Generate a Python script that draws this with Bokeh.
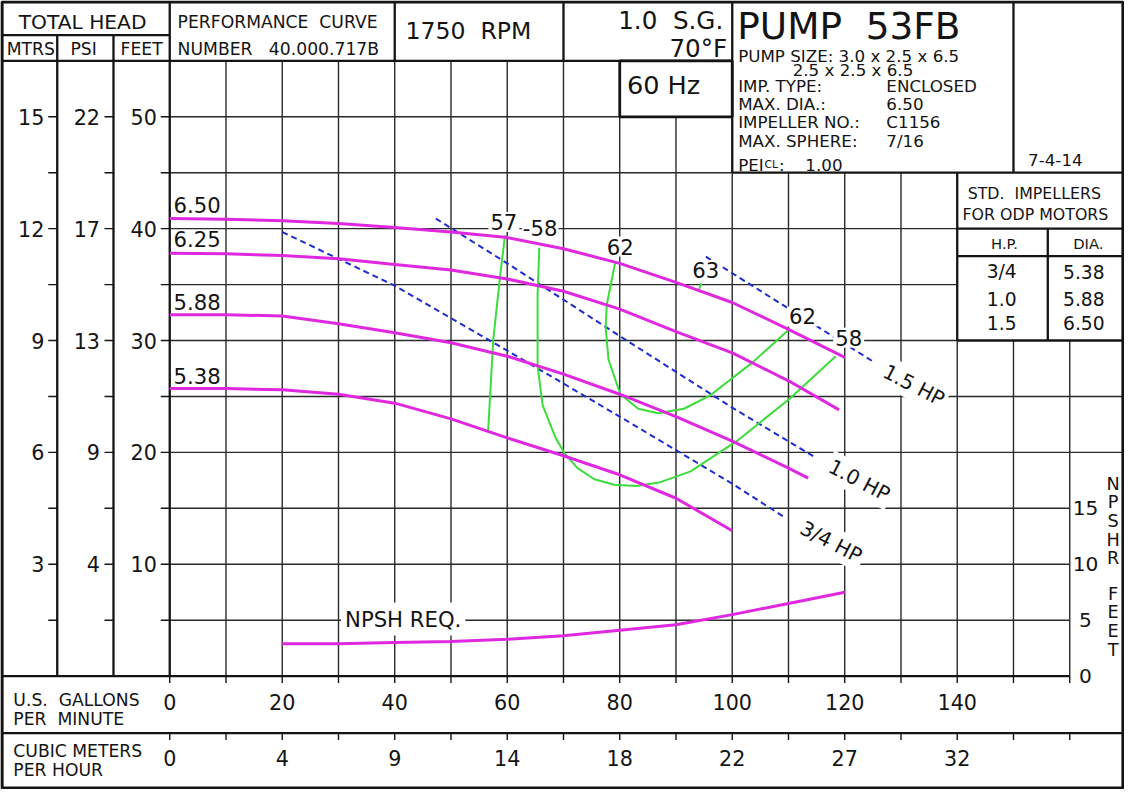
import numpy as np
from bokeh.plotting import figure
from bokeh.models import Range1d
from bokeh.core.properties import value
from bokeh.embed import file_html
from bokeh.resources import INLINE

# ------------------------------------------------------------------ data
gpm_ticks   = [0, 20, 40, 60, 80, 100, 120, 140]
gpm_labels  = ["0", "20", "40", "60", "80", "100", "120", "140"]
m3h_labels  = ["0", "4", "9", "14", "18", "22", "27", "32"]
feet_ticks  = [10, 20, 30, 40, 50]
feet_labels = ["10", "20", "30", "40", "50"]
psi_labels  = ["4", "9", "13", "17", "22"]
mtrs_labels = ["3", "6", "9", "12", "15"]
npsh_ticks  = [0, 5, 10, 15]
npsh_labels = ["0", "5", "10", "15"]

# head curves (gpm, feet) per impeller diameter
imp_labels = ["6.50", "6.25", "5.88", "5.38"]
q_650 = [0, 10, 20, 30, 40, 50, 60, 70, 80, 90, 100, 110, 120]
h_650 = [40.9, 40.85, 40.7, 40.45, 40.1, 39.7, 39.2, 38.2, 36.9, 35.2, 33.4, 31.0, 28.5]
q_625 = [0, 10, 20, 30, 40, 50, 60, 70, 80, 90, 100, 110, 119]
h_625 = [37.8, 37.75, 37.6, 37.3, 36.8, 36.3, 35.5, 34.4, 32.8, 30.8, 28.9, 26.4, 23.8]
q_588 = [0, 10, 20, 30, 40, 50, 60, 70, 80, 90, 100, 110, 113.5]
h_588 = [32.3, 32.3, 32.2, 31.5, 30.7, 29.8, 28.6, 27.0, 25.2, 23.2, 21.0, 18.6, 17.7]
q_538 = [0, 10, 20, 30, 40, 50, 60, 70, 80, 90, 100]
h_538 = [25.7, 25.7, 25.6, 25.2, 24.4, 23.0, 21.3, 19.7, 18.0, 15.9, 13.0]

# NPSH required (gpm, feet)
q_npsh = [20, 30, 40, 50, 60, 70, 80, 90, 100, 110, 120]
h_npsh = [2.9, 2.9, 3.0, 3.1, 3.3, 3.6, 4.1, 4.6, 5.5, 6.5, 7.5]

# efficiency iso-lines (gpm, feet)
eff_labels = ["57", "58", "62", "63"]
q_e57 = [59.6, 58.7, 57.5, 57.0, 56.6]
h_e57 = [39.4, 35.6, 30.0, 25.4, 21.9]
q_e58 = [65.7, 65.4, 65.4, 66.3, 68.6, 70.2, 72.5, 75.5, 79.0, 83.0, 87.0, 92.6, 100.8, 110.2, 118.4]
h_e58 = [38.3, 34.1, 27.7, 24.2, 21.3, 19.9, 18.6, 17.6, 17.1, 17.0, 17.3, 18.3, 21.0, 24.8, 28.6]
q_e62 = [79.2, 77.7, 77.5, 78.0, 80.1, 83.3, 86.8, 91.4, 96.1, 103.5, 109.9]
h_e62 = [37.0, 33.2, 31.2, 28.3, 25.2, 23.9, 23.5, 23.9, 25.1, 28.0, 30.9]
q_e63 = [94.1, 94.5]
h_e63 = [34.6, 35.1]

# motor power lines (gpm, feet)
hp_labels = ["3/4 HP", "1.0 HP", "1.5 HP"]
q_hp34 = [20, 40, 60, 80, 100, 109.6]
h_hp34 = [39.7, 34.9, 29.1, 23.2, 17.2, 14.1]
q_hp10 = [47.3, 60, 80, 100, 114.6]
h_hp10 = [40.9, 36.9, 30.4, 24.0, 19.6]
q_hp15 = [95.3, 125.1]
h_hp15 = [37.5, 28.1]

# standard impeller table
std_hp  = ["3/4", "1.0", "1.5"]
std_dia = ["5.38", "5.88", "6.50"]

# ------------------------------------------------------------------ style
FONT = value("DejaVu Sans")
FS = 0.985
INK = "#141414"
GRID = "#2a2a2a"
MAG = "#e028e0"
GRN = "#3cdc3c"
BLU = "#1e2dd2"

XL, XR = -29.82, 169.47     # outer frame, gpm units
YB, YT = -10.0, 60.26       # outer frame, feet units

p = figure(width=1124, height=789,
           x_range=Range1d(XL - 0.267, XR + 0.267),
           y_range=Range1d(YB - 0.134, YT + 0.134),
           x_axis_location=None, y_axis_location=None,
           toolbar_location=None, output_backend="svg",
           min_border=0, outline_line_color=None,
           background_fill_color="white", border_fill_color="white")
p.grid.grid_line_color = None


def seg(x0, y0, x1, y1, w=1.4, c=GRID):
    p.segment(x0=x0, y0=y0, x1=x1, y1=y1, line_color=c, line_width=w)


def txt(xs, ys, texts, size, align="left", baseline="middle", angle=0.0, bg=False, pad=2):
    texts = [t.replace(" ", "\u00a0") for t in texts]
    kw = dict(text_font=FONT, text_font_size=f"{size * FS:.1f}px",
              text_align=align, text_baseline=baseline, text_color=INK, angle=angle)
    if bg:
        kw.update(background_fill_color="white", padding=pad)
    p.text(x=xs, y=ys, text=texts, **kw)


# ------------------------------------------------------------------ grid
vq = list(range(10, 170, 10))
vtop = {10: 55, 20: 55, 30: 55, 40: 55, 50: 55, 60: 55, 70: 55, 80: 50, 90: 50,
        100: 45, 110: 45, 120: 45, 130: 45, 140: 30, 150: 30, 160: 30}
seg(vq, [0] * len(vq), vq, [vtop[q] for q in vq])
hh = list(range(5, 55, 5))
hend = {5: 160, 10: 160, 15: 160, 20: XR, 25: XR, 30: 140, 35: 140, 40: 140, 45: 100, 50: 80}
seg([0] * len(hh), hh, [hend[h] for h in hh], hh)

# ------------------------------------------------------------------ frame / table lines
TW = 2.3
seg([-20, -10], [0, 0], [-20, -10], [57.3, 57.3], w=TW, c=INK)
seg([0], [0], [0], [YT], w=TW, c=INK)
seg([XL], [57.3], [0], [57.3], w=TW, c=INK)
seg([XL], [55], [100], [55], w=TW, c=INK)
seg([40, 70], [55, 55], [40, 70], [YT, YT], w=TW, c=INK)
seg([100, 150], [45, 45], [100, 150], [YT, YT], w=TW, c=INK)
seg([100], [45], [XR], [45], w=TW, c=INK)
p.quad(left=80, right=100, bottom=50, top=55, fill_color="white", line_color=INK, line_width=2.8)
seg([140], [30], [140], [45], w=TW, c=INK)
seg([140, 140, 140], [40, 37.54, 30], [XR, XR, XR], [40, 37.54, 30], w=TW, c=INK)
seg([156.1], [30], [156.1], [40], w=TW, c=INK)
seg([XL], [0], [160], [0], w=TW, c=INK)
seg([XL], [-5.09], [XR], [-5.09], w=TW, c=INK)
p.quad(left=XL, right=XR, bottom=YB, top=YT, fill_color=None, line_color=INK, line_width=3.2)

# ------------------------------------------------------------------ axes ticks & labels
mt = [h for h in range(5, 55, 5)]
for col in (-20, -10, 0):
    seg([col - 1.6] * len(mt), mt, [col] * len(mt), mt, w=1.4, c=INK)
txt([-22.3] * 5, feet_ticks, mtrs_labels, 21, align="right")
txt([-12.4] * 5, feet_ticks, psi_labels, 21, align="right")
txt([-2.3] * 5, feet_ticks, feet_labels, 21, align="right")

bt = list(range(0, 170, 10))
seg(bt, [0] * len(bt), bt, [-0.62] * len(bt), w=1.4, c=INK)
seg(bt, [-5.09] * len(bt), bt, [-5.71] * len(bt), w=1.4, c=INK)
txt(gpm_ticks, [-2.28] * len(gpm_ticks), gpm_labels, 21, align="center")
txt(gpm_ticks, [-7.28] * len(gpm_ticks), m3h_labels, 21, align="center")
txt([-27.8, -27.8, -27.8, -27.8], [-2.1, -3.86, -6.67, -8.42],
    ["U.S.  GALLONS", "PER  MINUTE", "CUBIC METERS", "PER HOUR"], 17.5)

txt([162.8] * 4, npsh_ticks, npsh_labels, 20.5, align="center")
npsh_letters = ["N", "P", "S", "H", "R", "F", "E", "E", "T"]
ly = [17.19 - i * 1.667 for i in range(5)] + [7.37 - i * 1.667 for i in range(4)]
txt([167.7] * len(npsh_letters), ly, npsh_letters, 18, align="center")

# ------------------------------------------------------------------ curves
p.line(q_hp34, h_hp34, line_color=BLU, line_width=2, line_dash="6 4")
p.line(q_hp10, h_hp10, line_color=BLU, line_width=2, line_dash="6 4")
p.line(q_hp15, h_hp15, line_color=BLU, line_width=2, line_dash="6 4")

for qs, hs in ((q_e57, h_e57), (q_e58, h_e58), (q_e62, h_e62), (q_e63, h_e63)):
    p.line(qs, hs, line_color=GRN, line_width=2)

for qs, hs in ((q_650, h_650), (q_625, h_625), (q_588, h_588), (q_538, h_538)):
    p.line(qs, hs, line_color=MAG, line_width=3)
p.line(q_npsh, h_npsh, line_color=MAG, line_width=3)

txt([0.5] * 4, [h_650[0] + 1.25, h_625[0] + 1.25, h_588[0] + 1.15, h_538[0] + 1.15],
    imp_labels, 21.5, bg=True, pad=1)
txt([59.4, 80.1, 95.3, 112.5, 120.7], [40.6, 38.4, 36.3, 32.15, 30.26],
    ["57", "62", "63", "62", "58"], 21.5, align="center", bg=True, pad=2)
txt([62.6], [40.1], ["-58"], 21.5, align="left", bg=True, pad=1)
ang = -0.48
txt([117.6, 122.6, 132.3], [12.0, 17.5, 26.0], hp_labels, 20.5, align="center", angle=ang, bg=True, pad=3)
txt([41.5], [5.1], ["NPSH REQ."], 21.5, align="center", bg=True, pad=4)

# ------------------------------------------------------------------ header texts
txt([-15.5], [58.45], ["TOTAL HEAD"], 20.5, align="center")
txt([-24.7, -15.3, -5.0], [56.1, 56.1, 56.1], ["MTRS", "PSI", "FEET"], 17.5, align="center")
txt([1.4, 1.4], [58.45, 56.05], ["PERFORMANCE  CURVE", "NUMBER   40.000.717B"], 17.5)
txt([41.9], [57.66], ["1750  RPM"], 24)
txt([98.4, 99.1], [58.6, 56.1], ["1.0  S.G.", "70°F"], 25, align="right")
txt([87.8], [52.8], ["60 Hz"], 26, align="center")

txt([100.9], [58.1], ["PUMP  53FB"], 38)
txt([101.05, 110.75, 101.05, 101.05, 101.05, 101.05],
    [55.45, 54.2, 52.78, 51.14, 49.56, 47.87],
    ["PUMP SIZE: 3.0 x 2.5 x 6.5", "2.5 x 2.5 x 6.5", "IMP. TYPE:", "MAX. DIA.:",
     "IMPELLER NO.:", "MAX. SPHERE:"], 17)
txt([127.4] * 4, [52.78, 51.14, 49.56, 47.87], ["ENCLOSED", "6.50", "C1156", "7/16"], 17)
txt([101.05], [45.72], ["PEI"], 17, baseline="alphabetic")
txt([105.75], [45.72], ["CL"], 11, baseline="alphabetic")
txt([108.3, 113.0], [45.72, 45.72], [":", "1.00"], 17, baseline="alphabetic")
txt([152.6], [46.14], ["7-4-14"], 17)

txt([153.7, 153.9], [43.16, 41.3], ["STD.  IMPELLERS", "FOR ODP MOTORS"], 16, align="center")
txt([148.4, 163.3], [38.7, 38.7], ["H.P.", "DIA."], 15, align="center")
txt([147.9] * 3, [36.14, 33.68, 31.58], std_hp, 19, align="center")
txt([162.5] * 3, [36.14, 33.68, 31.58], std_dia, 19, align="center")

open("out.html", "w").write(file_html(p, INLINE))
